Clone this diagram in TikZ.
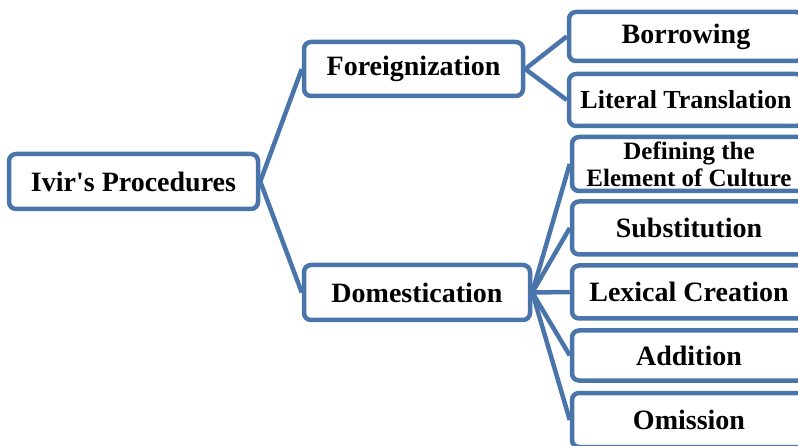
\documentclass[tikz,border=0pt]{standalone}
\usepackage{fontspec}
\setmainfont{Liberation Serif}
\usetikzlibrary{positioning}
\definecolor{boxblue}{RGB}{74,117,170}

\begin{document}
\begin{tikzpicture}[x=1pt, y=-1pt, font=\bfseries\fontsize{28}{32}\selectfont,
    box/.style={draw=boxblue, line width=4.5pt, rounded corners=7pt, fill=white,
        inner sep=0pt, align=center},
    leaf/.style={box, minimum width=234},
    link/.style={draw=boxblue, line width=4.5pt}]
    \useasboundingbox (0,0) rectangle (798,446);
    \clip (0,0) rectangle (798,446);

    \node[box, minimum width=249, minimum height=55] (ivir) at (133.5,181.5) {Ivir\textquotesingle s Procedures};
    \node[box, minimum width=219, minimum height=54] (foreign) at (413.5,69) {Foreignization};
    \node[box, minimum width=226, minimum height=55] (domest) at (417,292.5) {Domestication};

    \node[leaf, minimum height=49] (borrow) at (686,36.5) {Borrowing};
    \node[leaf, minimum height=52, font=\bfseries\fontsize{26}{30}\selectfont] (literal) at (686,100) {Literal Translation};

    \node[leaf, minimum height=54, font=\bfseries\fontsize{25}{27}\selectfont] (define) at (689,164) {Defining the\\Element of Culture};
    \node[leaf, minimum height=53] (subst) at (689,228) {Substitution};
    \node[leaf, minimum height=53] (lexical) at (689,292) {Lexical Creation};
    \node[leaf, minimum height=50] (addit) at (689,355.5) {Addition};
    \node[leaf, minimum height=54] (omit) at (689,420) {Omission};

    \draw[link] (foreign.west) -- (ivir.east) -- (domest.west);
    \draw[link] (borrow.west) -- (foreign.east) -- (literal.west);
    \foreach \leafname in {define, subst, lexical, addit, omit}
        \draw[link] (domest.east) -- (\leafname.west);
\end{tikzpicture}
\end{document}
